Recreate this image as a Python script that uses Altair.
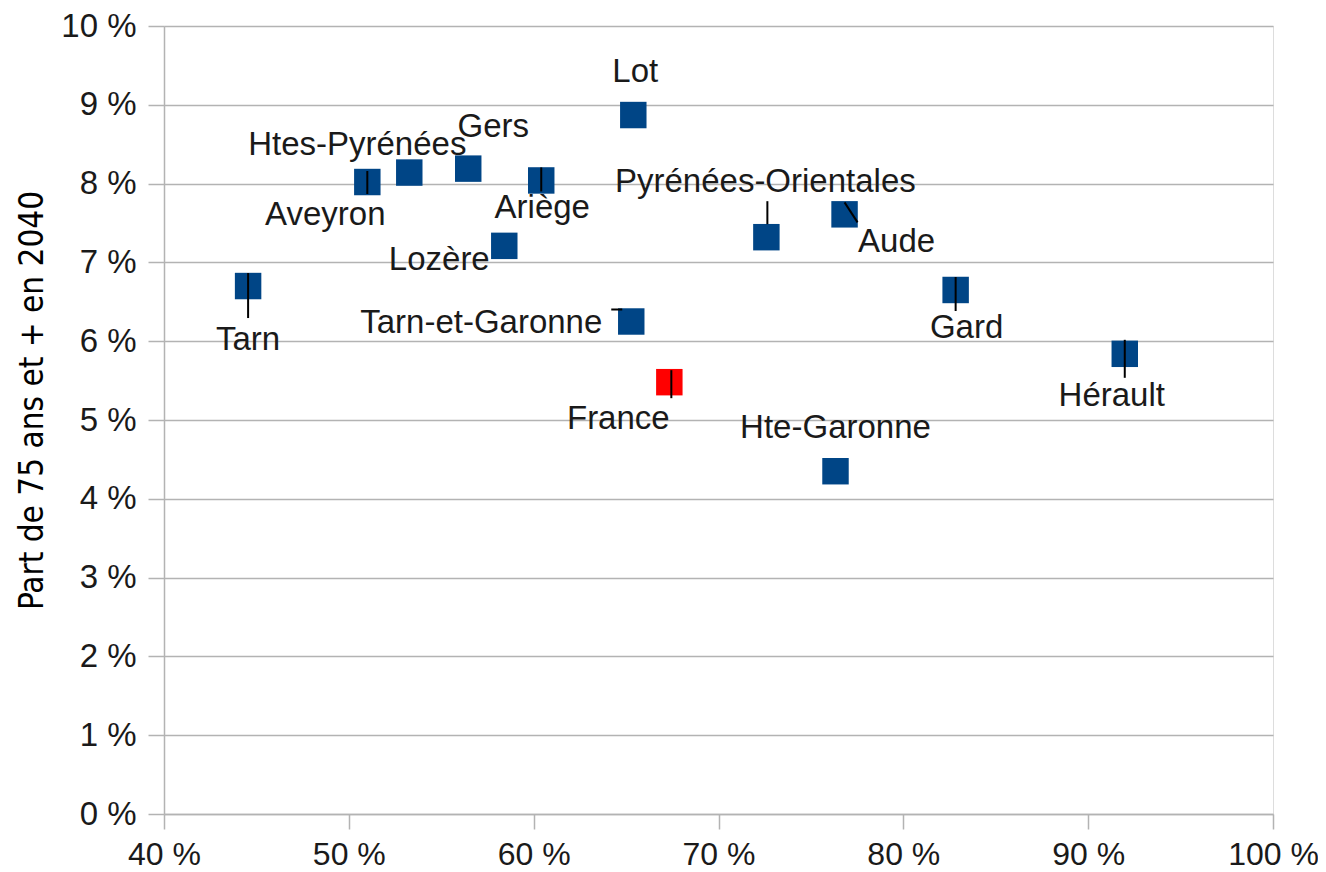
import altair as alt
import pandas as pd

# --- data ---
names = ["Tarn", "Aveyron", "Htes-Pyrénées", "Gers", "Ariège", "Lozère", "Lot",
         "Tarn-et-Garonne", "France", "Pyrénées-Orientales", "Aude", "Gard",
         "Hérault", "Hte-Garonne"]
x_vals = [44.55, 51.0, 53.27, 56.46, 60.41, 58.41, 65.39,
          65.28, 67.34, 72.59, 76.82, 82.83, 91.98, 76.33]
y_vals = [6.70, 8.02, 8.14, 8.19, 8.04, 7.21, 8.87,
          6.25, 5.48, 7.32, 7.61, 6.65, 5.84, 4.35]
groups = ["dep"] * 8 + ["nat"] + ["dep"] * 5

x_ticks = [40, 50, 60, 70, 80, 90, 100]
y_ticks = [0, 1, 2, 3, 4, 5, 6, 7, 8, 9, 10]

# label placement (pixel offsets from the point)
label_dx = [0, -42, -52, 25, 1, -65, 2, -150, -51, -1, 52, 11, -13, 0]
label_dy = [54, 33, -28, -42, 28, 14, -43, 1, 37, -55, 28, 38, 42, -43]

# leader lines (pixel offsets from the point: x1, y1, x2, y2)
leader_names = ["Tarn", "Aveyron", "Ariège", "Pyrénées-Orientales", "Aude",
                "Tarn-et-Garonne", "France", "Gard", "Hérault"]
leader_x1 = [0, 0, 0, 1, 0, -20, 2, 0, 0]
leader_y1 = [-13, -11, -13, -36, -12, -12, -12, -13, -14]
leader_x2 = [0, 0, 0, 1, 13, -9, 2, 0, 0]
leader_y2 = [32, 12, 11, -13, 8, -12, 16, 21, 24]

W, H = 1109, 788
XMIN, XMAX, YMIN, YMAX = 40, 100, 0, 10
kx = (XMAX - XMIN) / W
ky = (YMAX - YMIN) / H

df = pd.DataFrame({"name": names, "x": x_vals, "y": y_vals, "g": groups,
                   "dx": label_dx, "dy": label_dy})
df["lx"] = df["x"] + df["dx"] * kx
df["ly"] = df["y"] - df["dy"] * ky

pos = dict(zip(names, zip(x_vals, y_vals)))
ld = pd.DataFrame({"name": leader_names})
ld["x1"] = [pos[n][0] + a * kx for n, a in zip(leader_names, leader_x1)]
ld["y1"] = [pos[n][1] - b * ky for n, b in zip(leader_names, leader_y1)]
ld["x2"] = [pos[n][0] + a * kx for n, a in zip(leader_names, leader_x2)]
ld["y2"] = [pos[n][1] - b * ky for n, b in zip(leader_names, leader_y2)]

FONT = "Liberation Sans"
GRID = "#b3b3b3"

xscale = alt.Scale(domain=[XMIN, XMAX], nice=False, zero=False)
yscale = alt.Scale(domain=[YMIN, YMAX], nice=False)

xaxis = alt.Axis(values=x_ticks, grid=False, labelExpr="datum.value + ' %'",
                 title=None, tickSize=15, tickColor=GRID, domainColor=GRID,
                 tickWidth=1.5, domainWidth=1.5, labelFlush=False,
                 labelFont=FONT, labelFontSize=32, labelColor="#1a1a1a",
                 labelPadding=10)
yaxis = alt.Axis(values=y_ticks, grid=True, gridColor=GRID, gridWidth=1.5,
                 labelExpr="datum.value + ' %'", labelFlush=False,
                 title="Part de 75 ans et + en 2040",
                 titleFont="DejaVu Sans Condensed, DejaVu Sans", titleFontSize=33,
                 titleFontWeight="normal", titleColor="#000000",
                 titleAngle=270, titleX=-132, titleY=374,
                 titleBaseline="middle", titleAlign="center",
                 tickSize=16, tickColor=GRID, domainColor=GRID,
                 tickWidth=1.5, domainWidth=1.5,
                 labelFont=FONT, labelFontSize=33, labelColor="#1a1a1a",
                 labelPadding=12)

base = alt.Chart(df)

points = base.mark_point(shape="square", filled=True, size=700, opacity=1,
                         strokeWidth=0).encode(
    x=alt.X("x:Q", scale=xscale, axis=xaxis),
    y=alt.Y("y:Q", scale=yscale, axis=yaxis),
    color=alt.Color("g:N", scale=alt.Scale(domain=["dep", "nat"],
                                           range=["#004586", "#ff0000"]),
                    legend=None),
)

leaders = alt.Chart(ld).mark_rule(color="#000000", strokeWidth=2).encode(
    x=alt.X("x1:Q", scale=xscale),
    y=alt.Y("y1:Q", scale=yscale),
    x2="x2:Q",
    y2="y2:Q",
)

labels = base.mark_text(font=FONT, fontSize=33, color="#1a1a1a",
                        align="center", baseline="middle").encode(
    x=alt.X("lx:Q", scale=xscale),
    y=alt.Y("ly:Q", scale=yscale),
    text="name:N",
)

chart = alt.layer(points, leaders, labels).properties(
    width=W, height=H,
    autosize=alt.AutoSizeParams(type="none"),
    padding={"left": 156, "top": 18, "right": 45, "bottom": 58},
).configure_view(stroke=GRID, strokeWidth=1.5).configure(background="white")

chart.save("out.html", embed_options={"renderer": "svg", "actions": False})
